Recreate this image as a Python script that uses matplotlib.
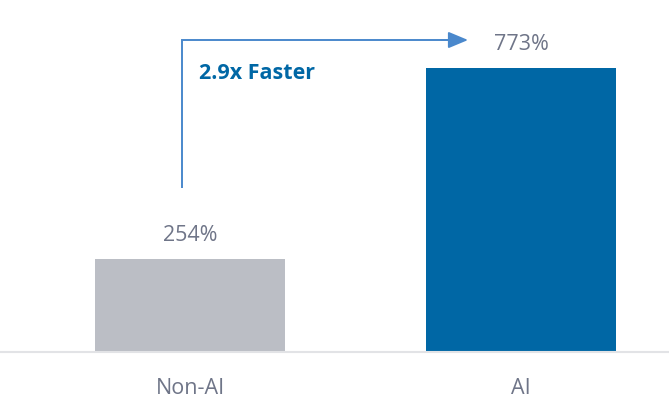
import matplotlib.pyplot as plt

plt.rcParams['font.family'] = ['Open Sans', 'DejaVu Sans']

# データ
categories = ['Non-AI', 'AI']
values = [254, 773]
bar_colors = ['#BBBEC5', '#0067A5']
value_labels = ['254%', '773%']
speedup_text = '2.9x Faster'

text_gray = '#6F7588'
arrow_blue = '#4A88CC'

fig = plt.figure(figsize=(6.69, 3.99), dpi=100)
ax = fig.add_axes([0, 47 / 399, 1, 352 / 399])

x = list(range(len(categories)))
ax.bar(x, values, width=0.574, color=bar_colors, zorder=2)

# 値ラベル
for xi, v, lab in zip(x, values, value_labels):
    ax.text(xi, v + 64, lab, ha='center', va='center', fontsize=15.5, color=text_gray)

# 矢印（Non-AI から AI へ）
x0 = x[0] - 0.024
y0 = values[0] + 193
y1 = values[1] + 77
x1 = x[1] - 0.16
ax.plot([x0, x0, x1 - 0.05], [y0, y1, y1], color=arrow_blue, lw=1.4, solid_capstyle='butt',
        solid_joinstyle='miter', zorder=3)
ax.annotate('', xy=(x1, y1), xytext=(x1 - 0.08, y1),
            arrowprops=dict(arrowstyle='-|>,head_length=1.2,head_width=0.5',
                            color=arrow_blue, lw=1.4, shrinkA=0, shrinkB=0))
ax.text(x0 + 0.05, values[1] - 13, speedup_text, ha='left', va='center',
        fontsize=15.5, fontweight='bold', color='#0067A5')

# 軸
ax.set_xlim(-0.574, 1.447)
ax.set_ylim(0, 959)
ax.set_xticks(x)
ax.set_xticklabels(categories, fontsize=15.5, color=text_gray)
ax.tick_params(axis='x', length=0, pad=19)
ax.set_yticks([])
for s in ['top', 'right', 'left']:
    ax.spines[s].set_visible(False)
ax.spines['bottom'].set_color('#E2E3E6')
ax.spines['bottom'].set_linewidth(1.5)

fig.savefig('out.png', dpi=100)
